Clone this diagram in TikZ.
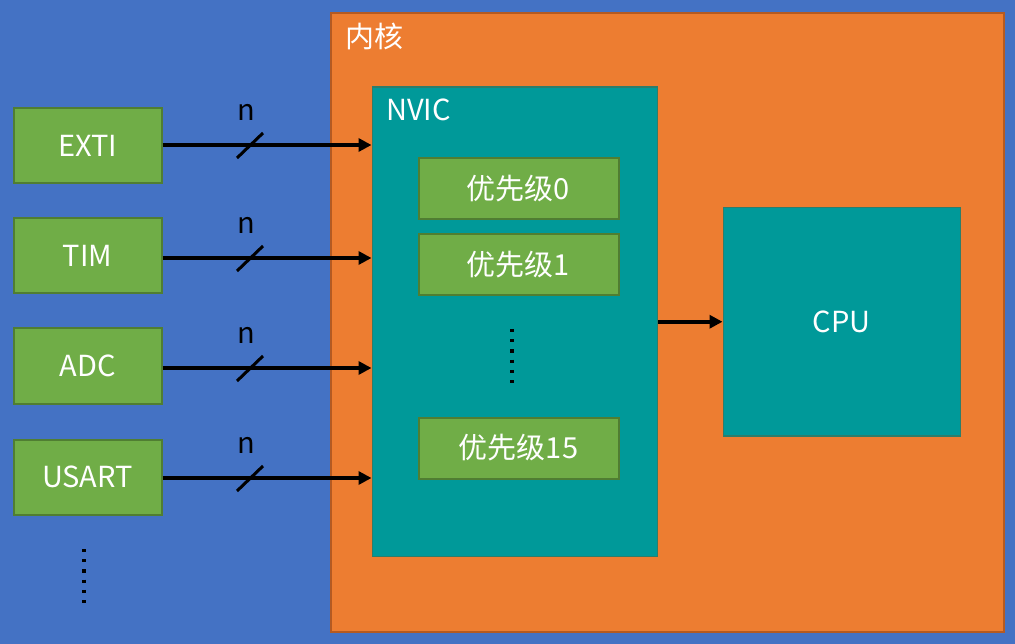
\documentclass[tikz,border=0pt]{standalone}
\usepackage{fontspec}
\setmainfont{Noto Sans CJK SC}
\usetikzlibrary{arrows.meta}
\definecolor{bgblue}{HTML}{4472C4}
\definecolor{korange}{HTML}{ED7D31}
\definecolor{korangeb}{HTML}{B45A22}
\definecolor{nteal}{HTML}{009999}
\definecolor{ntealb}{HTML}{2E7D6A}
\definecolor{pgreen}{HTML}{70AD47}
\definecolor{pgreenb}{HTML}{507E32}
\tikzset{
  gbox/.style={draw=pgreenb, line width=2pt, fill=pgreen, text=white, font=\fontsize{29}{33}\selectfont, inner sep=0pt},
  tbox/.style={draw=ntealb, line width=1.5pt, fill=nteal, text=white, inner sep=0pt},
  sig/.style={line width=3.8pt, -{Triangle[length=13pt,width=13pt]}},
  lbl/.style={text=white, font=\fontsize{29}{33}\selectfont, inner sep=0pt},
  nlbl/.style={text=black, font=\fontsize{29}{33}\selectfont, inner sep=0pt},
  dotsline/.style={line width=3.2pt, dash pattern=on 3.2pt off 7pt},
}
\begin{document}
\begin{tikzpicture}[x=1pt,y=-1pt]
\useasboundingbox (0,0) rectangle (1015,644);
\fill[bgblue] (0,0) rectangle (1015,644);
% kernel
\node[draw=korangeb, line width=2pt, fill=korange, minimum width=673pt, minimum height=618pt, anchor=north west, inner sep=0pt] (core) at (329.5,12.5) {};
\node[lbl, anchor=west] (corelbl) at (345,36) {内核};
% NVIC
\node[tbox, minimum width=285pt, minimum height=469pt, anchor=north west] (nvic) at (371.5,86.5) {};
\node[lbl, anchor=west] (nviclbl) at (386,110) {NVIC};
% CPU
\node[tbox, minimum width=237pt, minimum height=228pt, anchor=north west] (cpu) at (722.5,207) {};
\node[lbl] (cpulbl) at (cpu.center) {CPU};
% priorities
\node[gbox, minimum width=200pt, minimum height=61pt, anchor=north west] (p0) at (417.5,157.5) {优先级0};
\node[gbox, minimum width=200pt, minimum height=61pt, anchor=north west] (p1) at (417.5,233.5) {优先级1};
\node[gbox, minimum width=200pt, minimum height=61pt, anchor=north west] (p15) at (417.5,416.5) {优先级15};
\coordinate (md1) at (512,329);
\coordinate (md2) at (512,384);
\draw[dotsline] (md1) -- (md2);
% peripherals
\node[gbox, minimum width=148pt, minimum height=75pt, anchor=north west] (exti) at (12.5,107.5) {EXTI};
\node[gbox, minimum width=148pt, minimum height=75pt, anchor=north west] (tim) at (12.5,217.5) {TIM};
\node[gbox, minimum width=148pt, minimum height=75pt, anchor=north west] (adc) at (12.5,327.5) {ADC};
\node[gbox, minimum width=148pt, minimum height=75pt, anchor=north west] (usart) at (12.5,438.5) {USART};
\coordinate (ld1) at (84,549);
\coordinate (ld2) at (84,604);
\draw[dotsline] (ld1) -- (ld2);
% signal arrows
\foreach \s/\y in {exti/145,tim/258,adc/368,usart/478}{
  \draw[sig] (\s.east |- 0,\y) -- (nvic.west |- 0,\y);
  \draw[line width=3pt] (237,\y+13) -- (263,\y-12);
  \node[nlbl] (n\s) at (246,\y-33) {n};
}
\draw[sig] (nvic.east |- cpu.west) -- (cpu.west);
\end{tikzpicture}
\end{document}
